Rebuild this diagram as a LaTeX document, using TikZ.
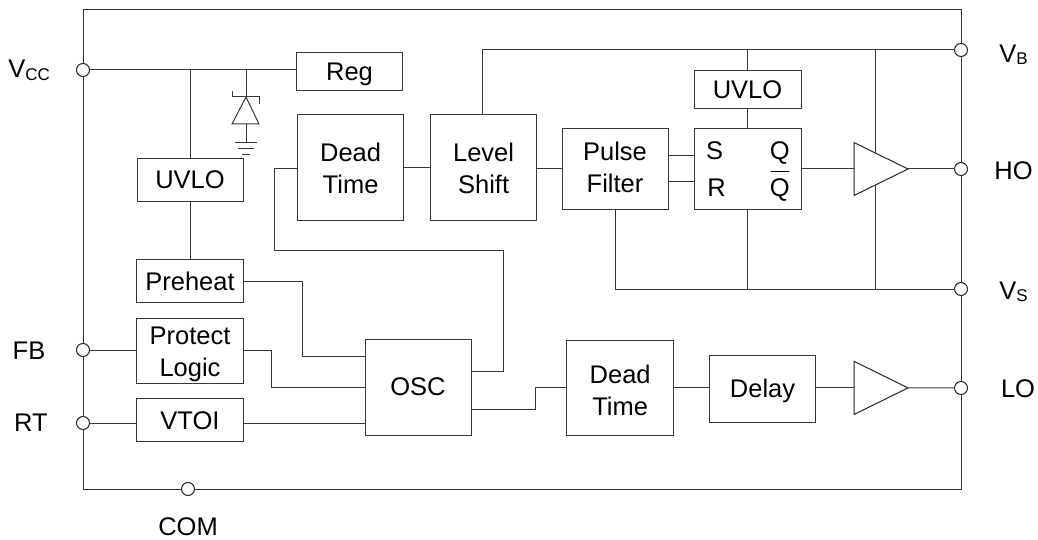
\documentclass[tikz,border=0pt]{standalone}
\usepackage{fontspec}
\setmainfont{Liberation Sans}
\usetikzlibrary{calc}
\newcommand{\qbar}{\leavevmode\rlap{\hspace{1.7pt}\rule[24.5pt]{17.5pt}{1pt}}Q}
\newcommand{\subs}[1]{\raisebox{-2.6pt}{\fontsize{17}{19}\selectfont #1}}
\tikzset{
  wire/.style={line width=1pt,color=black!78},
  blk/.style={draw=black!78,line width=1pt,fill=white,inner sep=0pt,outer sep=0pt,align=center,
    font=\fontsize{25.5}{32}\selectfont,text=black,text depth=0pt},
  pinc/.style={circle,draw=black!85,line width=1pt,fill=white,minimum size=13pt,inner sep=0pt,outer sep=0pt},
  lbl/.style={inner sep=0pt,outer sep=0pt,font=\fontsize{25.5}{30}\selectfont,text=black},
  amp/.style={draw=black!85,line width=1pt,fill=white,line join=miter},
}
\begin{document}
\begin{tikzpicture}[x=1pt,y=-1pt]
\useasboundingbox (0,0) rectangle (1038,540);
% package outline
\coordinate (tl) at (83,10);
\coordinate (br) at (961,489);
\draw[wire] (tl) rectangle (br);
% pins
\node[pinc] (vcc) at (83,70) {};
\node[pinc] (fb) at (83,350) {};
\node[pinc] (rt) at (83,423) {};
\node[pinc] (com) at (188,489) {};
\node[pinc] (vb) at (961,50) {};
\node[pinc] (ho) at (961,169) {};
\node[pinc] (vs) at (961,289) {};
\node[pinc] (lo) at (961,388) {};
% blocks
\node[blk,minimum width=106.5pt,minimum height=38pt,text height=18pt] (reg) at (349.5,72) {Reg};
\node[blk,minimum width=106.7pt,minimum height=106.3pt,text height=50.5pt] (dt1) at (350.6,167.8) {Dead\\Time};
\node[blk,minimum width=106.7pt,minimum height=106.3pt,text height=50.5pt] (ls) at (483.6,167.8) {Level\\Shift};
\node[blk,minimum width=106pt,minimum height=80pt,text height=47.5pt] (pf) at (615,169) {Pulse\\Filter};
\node[blk,minimum width=107pt,minimum height=80pt] (sr) at (747.5,169) {};
\node[blk,minimum width=107pt,minimum height=37.6pt,text height=19pt] (uv2) at (747.5,89.5) {UVLO};
\node[blk,minimum width=106pt,minimum height=42.7pt,text height=17.2pt] (uv1) at (190,179.7) {UVLO};
\node[blk,minimum width=106.5pt,minimum height=43pt,text height=20.4pt] (pre) at (190,280.5) {Preheat};
\node[blk,minimum width=106.5pt,minimum height=65pt,text height=51pt] (pl) at (190,350.5) {Protect\\Logic};
\node[blk,minimum width=106.5pt,minimum height=43pt,text height=19pt] (vt) at (190,419.5) {VTOI};
\node[blk,minimum width=106pt,minimum height=95.6pt,text height=16pt] (osc) at (418,387.5) {OSC};
\node[blk,minimum width=106.5pt,minimum height=95.7pt,text height=55.4pt] (dt2) at (620.2,387.9) {Dead\\Time};
\node[blk,minimum width=106.4pt,minimum height=66.6pt,text height=16.6pt] (dl) at (762.5,389) {Delay};
% SR latch pins
\node[lbl,anchor=base] (ss) at (714.5,160) {S};
\node[lbl,anchor=base] (sq) at (779.7,160) {Q};
\node[lbl,anchor=base] (rr) at (716.5,196.7) {R};
\node[lbl,anchor=base] (nq) at (779.7,196.7) {\qbar};
% zener
\coordinate (zt) at (246,97);
\coordinate (zb) at (246,124);
\coordinate (gnd) at (246,143);
\draw[wire] (zt |- vcc) -- (zt);
\draw[wire] (232,91) -- (232,97) -- (259,97) -- (259,104);
\draw[wire] (zt) -- (232,124) -- (259,124) -- cycle;
\draw[wire] (zb) -- (gnd);
\draw[wire] (235,143) -- (257,143) (238,149) -- (254,149) (242,155) -- (250,155);
% wires
\draw[wire] (vcc) -- (vcc -| reg.west);
\draw[wire] (uv1.north |- vcc) -- (uv1.north);
\draw[wire] (uv1.south) -- (uv1.south |- pre.north);
\draw[wire] (dt1.east) -- (ls.west);
\draw[wire] (ls.east |- pf.west) -- (pf.west);
\draw[wire] (pf.east |- 0,156) -- (sr.west |- 0,156);
\draw[wire] (pf.east |- 0,182) -- (sr.west |- 0,182);
\coordinate (vbj) at (482,50);
\draw[wire] (vbj |- ls.north) -- (vbj) -- (vb);
\draw[wire] (uv2.north) -- (uv2.north |- vb);
\draw[wire] (uv2.south) -- (sr.north);
\draw[wire] (sr.south) -- (sr.south |- vs);
\draw[wire] (pf.south) -- (pf.south |- vs) -- (vs);
\coordinate (rail) at (875,50);
\draw[wire] (rail) -- (rail |- vs);
\draw[wire] (fb) -- (fb -| pl.west);
\draw[wire] (rt) -- (rt -| vt.west);
\draw[wire] (pre.east |- 0,281) -- (302,281) -- (302,356) -- (osc.west |- 0,356);
\draw[wire] (pl.east |- 0,350) -- (271,350) -- (271,387.3) -- (osc.west |- 0,387.3);
\draw[wire] (vt.east |- rt) -- (osc.west |- rt);
\draw[wire] (osc.east |- 0,371) -- (503.5,371) -- (503.5,250) -- (274,250) -- (274,168.3) -- (dt1.west |- 0,168.3);
\draw[wire] (osc.east |- 0,409) -- (535.5,409) -- (535.5,387.9) -- (dt2.west);
\draw[wire] (dt2.east) -- (dt2.east -| dl.west);
% drivers
\coordinate (a1) at (854,169);
\coordinate (t1) at (908,169);
\coordinate (a2) at (854,387.9);
\coordinate (t2) at (908,387.9);
\draw[wire] (sr.east |- a1) -- (a1);
\draw[wire] (dl.east |- a2) -- (a2);
\draw[wire] (t1) -- (ho);
\draw[wire] (t2) -- (lo);
\draw[amp] (854,142.5) -- (t1) -- (854,195.5) -- cycle;
\draw[amp] (854,361.3) -- (t2) -- (854,414.5) -- cycle;
% pin labels
\node[lbl,anchor=base west] (lvcc) at (8.3,77.7) {V\subs{CC}};
\node[lbl,anchor=base] (lfb) at (29,359.3) {FB};
\node[lbl,anchor=base] (lrt) at (31,431.7) {RT};
\node[lbl,anchor=base] (lcom) at (188,535) {COM};
\node[lbl,anchor=base west] (lvb) at (999.3,62.3) {V\subs{B}};
\node[lbl,anchor=base] (lho) at (1013.5,179) {HO};
\node[lbl,anchor=base west] (lvs) at (999.3,299.3) {V\subs{S}};
\node[lbl,anchor=base] (llo) at (1018,397.7) {LO};
\end{tikzpicture}
\end{document}
